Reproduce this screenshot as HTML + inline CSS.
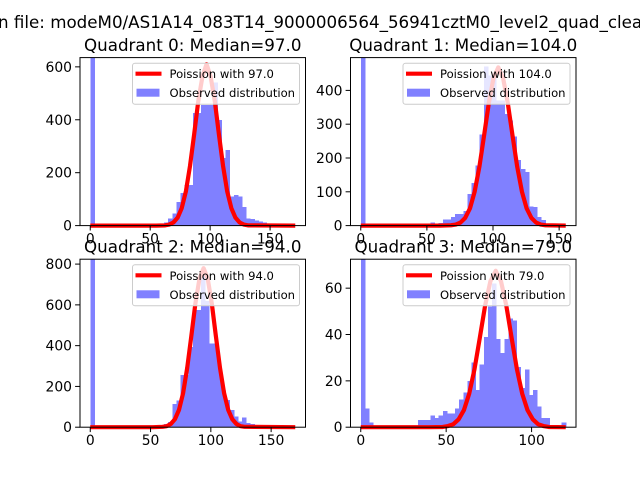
<!DOCTYPE html>
<html><head><meta charset="utf-8">
<style>
html,body{margin:0;padding:0;background:#fff;}
svg{display:block;font-family:"DejaVu Sans","Liberation Sans",sans-serif;}
</style></head>
<body>
<svg id="fig" width="640" height="480" viewBox="0 0 640 480">
<rect x="0" y="0" width="640" height="480" fill="#fff"/>
<text x="-2" y="28" font-size="16.7" fill="#000">n file: modeM0/AS1A14_083T14_9000006564_56941cztM0_level2_quad_clean.evt</text>
</svg>
<script>
// ---- data ----
const q0Bins=[640,0,0,0,0,0,0,0,0,0,0,0,0,2,0,0,1,8,12,27,45,90,123,153,153,425,425,455,455,455,540,400,255,285,110,115,110,70,27,25,20,15,12,8,5,3,2,1,0,1];
const q1Bins=[500,0,0,0,0,0,0,0,0,0,0,0,0,0,0,0,0,9,5,8,18,18,26,35,35,43,93,126,178,270,471,444,440,370,370,330,311,263,194,168,158,57,55,26,16,6,3,2,1,1];
const q2Bins=[830,0,0,0,0,0,0,0,0,0,0,0,0,0,0,0,0,10,15,25,115,130,256,256,393,575,575,760,620,410,410,297,180,133,85,52,27,47,20,15,5,3,1,1,0,0,0,0,0,0];
const q3Bins=[73,8,2,0,0,0,0,0,0,0,0,0,0,0,3,3,3,5,4,5,7,6,6,8,12,15,20,28,16,27,39,52,62,38,32,38,47,46,26,17,25,14,16,9,4,4,0,0,0,2];
const q0LineX=[0,55,62.5,66,69.4,72.9,76.3,79.8,83.2,86.7,90.1,93.6,97,100.4,103.9,107.3,110.8,114.2,117.7,121.1,124.6,128,131.5,171];
const q0LineY=[0,0,1,4,12,30,66,130,225,346,470,564,610,564,470,346,225,130,66,30,12,4,1,0];
const q1LineX=[0,60,68.3,71.9,75.4,79,82.6,86.1,89.7,93.3,96.9,100.4,104,107.6,111.1,114.7,118.3,121.9,125.4,129,132.6,136.1,139.7,155];
const q1LineY=[0,0,1,3,9,23,51,100,174,268,364,437,468,437,364,268,174,100,51,23,9,3,1,0];
const q2LineX=[0,52,60,63.4,66.8,70.2,73.6,77,80.4,83.8,87.2,90.6,94,97.4,100.8,104.2,107.6,111,114.4,117.8,121.2,124.6,128,170];
const q2LineY=[0,0,2,5,16,39,85,167,291,446,607,729,780,729,607,446,291,167,85,39,16,5,2,0];
const q3LineX=[0,40,48,51.1,54.2,57.3,60.4,63.5,66.6,69.7,72.8,75.9,79,82.1,85.2,88.3,91.4,94.5,97.6,100.7,103.8,106.9,110,120];
const q3LineY=[0,0,0.1,0.5,1.3,3.4,7.4,14.5,25.1,38.6,52.5,63,67.5,63,52.5,38.6,25.1,14.5,7.4,3.4,1.3,0.5,0.1,0];
const q0XTicks=[0,50,100,150], q0YTicks=[0,200,400,600];
const q1XTicks=[0,50,100,150], q1YTicks=[0,100,200,300,400];
const q2XTicks=[0,50,100,150], q2YTicks=[0,200,400,600,800];
const q3XTicks=[0,50,100], q3YTicks=[0,20,40,60];
const yTop=[635,497,824,72.5];
const titles=["Quadrant 0: Median=97.0","Quadrant 1: Median=104.0","Quadrant 2: Median=94.0","Quadrant 3: Median=79.0"];
const medians=["97.0","104.0","94.0","79.0"];
const dataMax=[171,155,170,120];

const NS="http://www.w3.org/2000/svg";
const svg=document.getElementById('fig');
function mk(tag,attrs,parent){const e=document.createElementNS(NS,tag);for(const k in attrs)e.setAttribute(k,attrs[k]);(parent||svg).appendChild(e);return e;}

const panels=[
 {x0:80,y0:57.6,bins:q0Bins,lx:q0LineX,ly:q0LineY,xt:q0XTicks,yt:q0YTicks},
 {x0:350.5,y0:57.6,bins:q1Bins,lx:q1LineX,ly:q1LineY,xt:q1XTicks,yt:q1YTicks},
 {x0:80,y0:259.2,bins:q2Bins,lx:q2LineX,ly:q2LineY,xt:q2XTicks,yt:q2YTicks},
 {x0:350.5,y0:259.2,bins:q3Bins,lx:q3LineX,ly:q3LineY,xt:q3XTicks,yt:q3YTicks}
];
const W=225.5,H=168;
panels.forEach((p,i)=>{
  const D=dataMax[i];
  const xmin=-0.05*D,xmax=1.05*D;
  const top=yTop[i];
  const sx=v=>p.x0+(v-xmin)/(xmax-xmin)*W;
  const sy=v=>p.y0+H-Math.min(v,top)/top*H;
  const g=mk('g',{});
  
  
  const bg=mk('g',{'shape-rendering':'crispEdges'},g);
  const bw=D/p.bins.length;
  p.bins.forEach((c,k)=>{
    if(c<=0)return;
    const r=mk('rect',{x:sx(k*bw),y:sy(c),width:sx((k+1)*bw)-sx(k*bw)+0.5,height:sy(0)-sy(c),fill:'#8080ff'},bg);
    
    
  });
  const pts=p.lx.map((x,j)=>sx(x).toFixed(2)+','+sy(p.ly[j]).toFixed(2)).join(' ');
  const pl=mk('polyline',{points:pts,fill:'none',stroke:'#ff0000','stroke-width':4.2,'stroke-linejoin':'round'},g);
  
  
  const fr=mk('rect',{x:p.x0,y:p.y0,width:W,height:H,fill:'none',stroke:'#000','stroke-width':1},g);
  
  
  p.xt.forEach(t=>{
    const x=sx(t);
    mk('line',{x1:x,x2:x,y1:p.y0+H,y2:p.y0+H+4.9,stroke:'#000','stroke-width':1},g);
    const tx=mk('text',{x:x,y:p.y0+H+18,'font-size':13.9,'text-anchor':'middle'},g);
    tx.textContent=t;
    
    
  });
  p.yt.forEach(t=>{
    const y=sy(t);
    mk('line',{x1:p.x0-4.9,x2:p.x0,y1:y,y2:y,stroke:'#000','stroke-width':1},g);
    const ty=mk('text',{x:p.x0-8,y:y+5,'font-size':13.9,'text-anchor':'end'},g);
    ty.textContent=t;
    
    
  });
  const tt=mk('text',{x:p.x0+W/2,y:p.y0-6.5,'font-size':16.7,'text-anchor':'middle'},g);
  tt.textContent=titles[i];
  
  
  const lg=mk('g',{},g);
  
  
  const lx=p.x0+W-173, ly=p.y0+5.6;
  mk('rect',{x:lx,y:ly,width:167,height:41,rx:2.5,fill:'#fff','fill-opacity':0.8,stroke:'#cccccc','stroke-width':1},lg);
  mk('line',{x1:lx+3,x2:lx+29,y1:ly+10.5,y2:ly+10.5,stroke:'#ff0000','stroke-width':4.2},lg);
  const t1=mk('text',{x:lx+37,y:ly+15,'font-size':11.6},lg);
  t1.textContent='Poission with '+medians[i];
  
  
  mk('rect',{x:lx+4,y:ly+25.5,width:23,height:8,fill:'#8080ff'},lg);
  const t2=mk('text',{x:lx+37,y:ly+34,'font-size':11.6},lg);
  t2.textContent='Observed distribution';
  
  
});
</script>
</body></html>
